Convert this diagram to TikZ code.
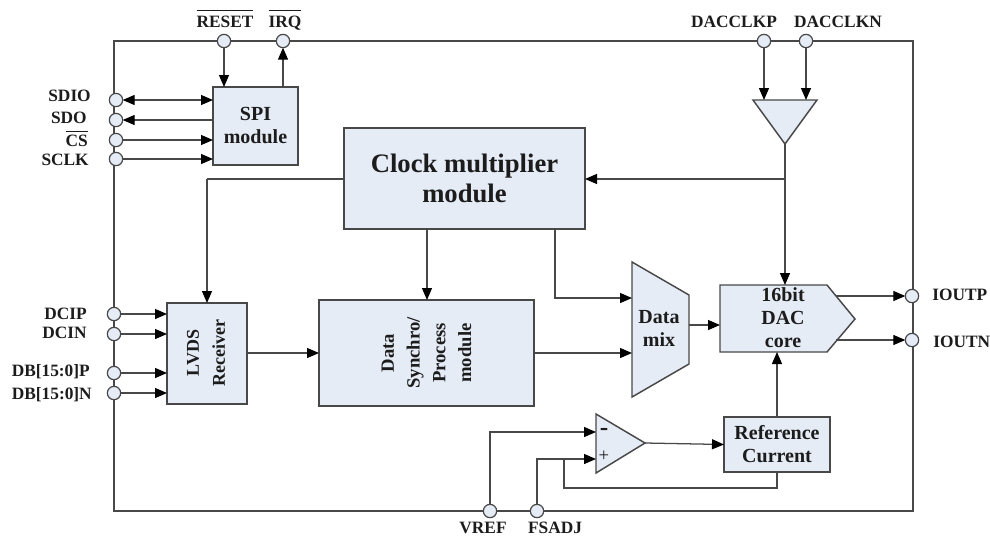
\documentclass[tikz,border=0pt]{standalone}
\usepackage{fontspec}
\setmainfont{Liberation Serif}
\usetikzlibrary{arrows.meta,calc}
\definecolor{fillb}{HTML}{E6ECF6}
\definecolor{linec}{HTML}{484848}
\definecolor{txt}{HTML}{1c1c1c}
\tikzset{
  x=0.75pt,y=-0.75pt,
  wire/.style={draw=linec,line width=0.95pt},
  arr/.style={wire,-{Triangle[length=9pt,width=7.5pt,color=black]}},
  darr/.style={wire,{Triangle[length=9pt,width=7.5pt,color=black]}-{Triangle[length=9pt,width=7.5pt,color=black]}},
  pin/.style={circle,draw=linec,fill=fillb,line width=0.9pt,minimum size=10pt,inner sep=0pt,outer sep=0pt},
  blockbox/.style={draw=linec,fill=fillb,line width=1.1pt,rectangle,inner sep=0pt,outer sep=0pt},
  polyshape/.style={draw=linec,fill=fillb,line width=1.1pt,line join=miter},
  lab/.style={inner sep=0pt,text=txt,font=\fontsize{13}{15}\selectfont\bfseries},
  blocktext/.style={inner sep=0pt,align=center,text=txt,font=\fontsize{15}{17.2}\selectfont\bfseries},
  rottext/.style={blocktext,rotate=90,font=\fontsize{13.5}{19.5}\selectfont\bfseries},
  rottextb/.style={blocktext,rotate=90,font=\fontsize{14}{19.3}\selectfont\bfseries},
  bigtext/.style={blocktext,font=\fontsize{20}{22.5}\selectfont\bfseries}
}
\newcommand{\obar}[2]{$\overline{\rule{0pt}{#1}\mbox{#2}}$}
\begin{document}
\begin{tikzpicture}
\useasboundingbox (0,0) rectangle (990,537);
% outer frame
\coordinate (ftl) at (114,41);
\coordinate (fbr) at (913,511);
\draw[wire] (ftl) rectangle (fbr);
% blocks
\node[blockbox,minimum width=63.75pt,minimum height=58.5pt] (spi) at (255.5,126) {};
\node[blocktext] (spit) at (255.5,125.5) {SPI\\module};
\node[blockbox,minimum width=180.75pt,minimum height=75.75pt] (clk) at (464.5,178.5) {};
\node[bigtext] (clkt) at (464.5,178) {Clock multiplier\\module};
\node[blockbox,minimum width=60pt,minimum height=75.75pt] (lvds) at (207,353.5) {};
\node[rottext] (lvdst) at (206,353) {LVDS\\Receiver};
\node[blockbox,minimum width=161.25pt,minimum height=79.5pt] (syn) at (426.5,353) {};
\node[rottextb] (synt) at (426.5,353) {Data\\Synchro/\\Process\\module};
\node[blockbox,minimum width=79.5pt,minimum height=41.25pt] (ref) at (777,444.5) {};
\node[blocktext] (reft) at (777,444.5) {Reference\\Current};
% data mix
\coordinate (mixa) at (632,262);
\coordinate (mixb) at (689,295);
\coordinate (mixc) at (689,364);
\coordinate (mixd) at (632,397);
\draw[polyshape] (mixa) -- (mixb) -- (mixc) -- (mixd) -- cycle;
\node[blocktext] (mixt) at (659,328.5) {Data\\mix};
% dac
\coordinate (daca) at (720,285);
\coordinate (dacb) at (827,285);
\coordinate (dacc) at (855,319);
\coordinate (dacd) at (827,352);
\coordinate (dace) at (720,352);
\draw[polyshape] (daca) -- (dacb) -- (dacc) -- (dacd) -- (dace) -- cycle;
\node[blocktext] (dact) at (783,318) {16bit\\DAC\\core};
% clock buffer
\coordinate (bufa) at (753,100);
\coordinate (bufb) at (817,100);
\coordinate (buft) at (785,144);
\draw[polyshape] (bufa) -- (bufb) -- (buft) -- cycle;
% op amp
\coordinate (opa) at (596,414);
\coordinate (opb) at (596,473);
\coordinate (opt) at (645,443);
\draw[polyshape] (opa) -- (opt) -- (opb) -- cycle;
\node[lab,font=\fontsize{19}{20}\selectfont\bfseries] (opm) at (604,432) {-};
\node[lab,font=\fontsize{14}{15}\selectfont] (opp) at (604,456) {+};
% pins
\node[pin] (rst) at (224,41) {};
\node[pin] (irq) at (283,41) {};
\node[pin] (dcp) at (764,41) {};
\node[pin] (dcn) at (806,41) {};
\node[pin] (sdio) at (116,100) {};
\node[pin] (sdo) at (116,120) {};
\node[pin] (cs) at (116,140) {};
\node[pin] (sclk) at (116,159) {};
\node[pin] (dcip) at (114,314) {};
\node[pin] (dcin) at (114,334) {};
\node[pin] (dbp) at (114,373) {};
\node[pin] (dbn) at (114,393) {};
\node[pin] (ioutp) at (912,296) {};
\node[pin] (ioutn) at (912,340) {};
\node[pin] (vref) at (490,511) {};
\node[pin] (fsadj) at (537,511) {};
% labels
\node[lab,anchor=base] (lrst) at (225,27) {\obar{11pt}{RESET}};
\node[lab,anchor=base] (lirq) at (285,27) {\obar{11pt}{IRQ}};
\node[lab] (ldcp) at (734,22) {DACCLKP};
\node[lab] (ldcn) at (838,22) {DACCLKN};
\node[lab,anchor=east] (lsdio) at (91,96) {SDIO};
\node[lab,anchor=east] (lsdo) at (87,118) {SDO};
\node[lab,anchor=base east] (lcs) at (88,146) {\obar{9.5pt}{CS}};
\node[lab,anchor=east] (lsclk) at (89,160) {SCLK};
\node[lab,anchor=east] (ldcip) at (87,314) {DCIP};
\node[lab,anchor=east] (ldcin) at (87,333) {DCIN};
\node[lab,anchor=east] (ldbp) at (90,372) {DB[15:0]P};
\node[lab,anchor=east] (ldbn) at (92,395) {DB[15:0]N};
\node[lab,anchor=west] (liop) at (932,295) {IOUTP};
\node[lab,anchor=west] (lion) at (933,342) {IOUTN};
\node[lab] (lvref) at (483,528) {VREF};
\node[lab] (lfs) at (555,528) {FSADJ};
% SPI connectors
\draw[arr] (rst) -- (rst |- spi.north);
\draw[arr] (irq |- spi.north) -- (irq);
\draw[darr] (sdio) -- (sdio -| spi.west);
\draw[arr] (sdo -| spi.west) -- (sdo);
\draw[arr] (cs) -- (cs -| spi.west);
\draw[arr] (sclk) -- (sclk -| spi.west);
% LVDS inputs
\draw[arr] (dcip) -- (dcip -| lvds.west);
\draw[arr] (dcin) -- (dcin -| lvds.west);
\draw[arr] (dbp) -- (dbp -| lvds.west);
\draw[arr] (dbn) -- (dbn -| lvds.west);
% clock path
\draw[arr] (dcp) -- (dcp |- bufa);
\draw[arr] (dcn) -- (dcn |- bufa);
\coordinate (cktap) at (buft |- 0,179);
\draw[arr] (buft) -- (buft |- daca);
\draw[arr] (cktap) -- (cktap -| clk.east);
\coordinate (lvup) at (lvds.north |- cktap);
\draw[wire] (cktap -| clk.west) -- (lvup);
\draw[arr] (lvup) -- (lvds.north);
\coordinate (sycl) at (427,229);
\draw[arr] (sycl) -- (sycl |- syn.north);
\coordinate (mxcl) at (555,229);
\coordinate (mxin) at (632,298);
\draw[arr] (mxcl) |- (mxin);
% data path
\draw[arr] (lvds.east |- syn.west) -- (syn.west);
\coordinate (mxin2) at (632,353);
\draw[arr] (syn.east |- mxin2) -- (mxin2);
\coordinate (mxout) at (689,325);
\draw[arr] (mxout) -- (mxout -| daca);
% dac outputs
\draw[arr] (836,0 |- ioutp) -- (ioutp.west);
\draw[arr] (836,0 |- ioutn) -- (ioutn.west);
% reference
\draw[arr] (ref.north) -- (ref.north |- dace);
\coordinate (minus) at (596,432);
\coordinate (plus) at (596,459);
\draw[arr] (vref) |- (minus);
\draw[arr] (fsadj) |- (plus);
\draw[arr] (opt) -- (ref.west);
\coordinate (fbk) at (564,459);
\draw[wire] (ref.south) -- (ref.south |- 0,488) -| (fbk);
\end{tikzpicture}
\end{document}
